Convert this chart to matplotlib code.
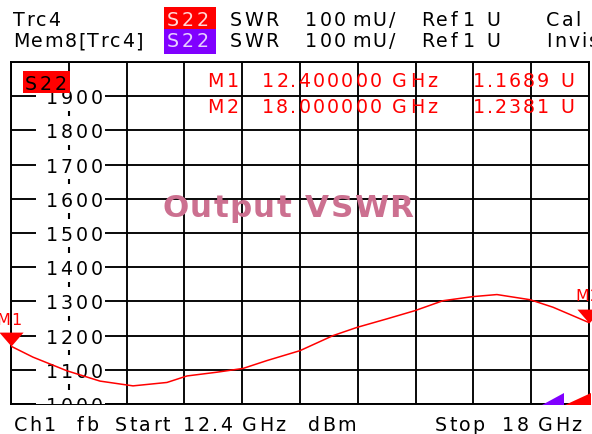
import numpy as np
import matplotlib
matplotlib.use("Agg")
import matplotlib.pyplot as plt
import matplotlib.transforms as mtransforms
from matplotlib.patches import Rectangle, Polygon
from matplotlib.font_manager import FontProperties, findfont, get_font

# ---------------- data ----------------
freq_ghz = [12.4, 12.613, 12.943, 13.262, 13.582, 13.911, 14.105, 14.396, 14.648,
            14.880, 15.200, 15.520, 15.752, 16.043, 16.314, 16.585, 16.876, 17.108,
            17.428, 17.651, 17.845, 18.0]
swr_mu = [1169, 1137, 1097, 1067, 1053, 1063, 1082, 1093, 1104,
          1127, 1156, 1200, 1224, 1249, 1273, 1302, 1314, 1320,
          1305, 1283, 1258, 1238]

start_ghz = 12.4
stop_ghz = 18.0
y_min, y_max = 1000, 2000
y_tick_values = [1000, 1100, 1200, 1300, 1400, 1500, 1600, 1700, 1800, 1900]
y_tick_labels = ["1000", "1100", "1200", "1300", "1400", "1500", "1600", "1700", "1800", "1900"]

marker_names = ["M1", "M2"]
marker_freq = [12.4, 18.0]
marker_value = [1168.9, 1238.1]
marker_freq_text = ["12.400000", "18.000000"]
marker_value_text = ["1.1689", "1.2381"]

title_text = "Output VSWR"

# ---------------- layout ----------------
W, H, DPI = 592, 435, 100
FONT = "DejaVu Sans"
L, R, T, B = 11, 589, 63, 405

fig = plt.figure(figsize=(W / DPI, H / DPI), dpi=DPI)
fig.patch.set_facecolor("white")
ax = fig.add_axes([L / W, (H - B) / H, (R - L) / W, (B - T) / H])
ov = fig.add_axes([0, 0, 1, 1], zorder=5)
ov.set_xlim(0, W)
ov.set_ylim(H, 0)
ov.axis("off")
ov.patch.set_alpha(0)

_adv_cache = {}


def char_adv(ch, size_px, weight):
    key = (ch, size_px, weight)
    if key in _adv_cache:
        return _adv_cache[key]
    try:
        fp = FontProperties(family=FONT, weight=weight)
        font = get_font(findfont(fp))
        font.set_size(size_px * 72 / DPI, DPI)
        g = font.load_char(ord(ch))
        a = g.linearHoriAdvance / 65536.0
    except Exception:
        a = 0.6 * size_px
    _adv_cache[key] = a
    return a


def text_width(s, size_px, spacing, weight="normal"):
    return sum(char_adv(c, size_px, weight) + spacing for c in s) - spacing


def spaced(target, x, y, s, size_px=19, spacing=2.2, color="black", weight="normal",
           transform=None, zorder=6, clip=False):
    cx = x
    for ch in s:
        if ch != " ":
            kw = {}
            if transform is not None:
                kw["transform"] = transform
            target.text(cx, y, ch, fontsize=size_px * 72 / DPI, family=FONT,
                        weight=weight, color=color, va="baseline", ha="left",
                        zorder=zorder, clip_on=clip, **kw)
        cx += char_adv(ch, size_px, weight) + spacing
    return cx


# ---------------- main axes ----------------
ax.set_xlim(start_ghz, stop_ghz)
ax.set_ylim(y_min, y_max)
x_grid = np.linspace(start_ghz, stop_ghz, 11)
ax.set_xticks(x_grid)
ax.set_yticks(list(y_tick_values) + [y_max])
ax.tick_params(length=0, labelbottom=False, labelleft=False)
ax.grid(True, color="black", lw=1.35)
ax.set_axisbelow(True)
for sp in ax.spines.values():
    sp.set_color("black")
    sp.set_linewidth(1.4)

# white mask column for y labels
blend = mtransforms.blended_transform_factory(ov.transData, ax.transData)
ax.add_patch(Rectangle((36, y_min), 69, 912, transform=blend, facecolor="white",
                       edgecolor="none", zorder=3))
mids = np.array(y_tick_values) + 50
ax.vlines([x_grid[1]] * (len(mids) - 1), mids[:-1] - 8, mids[:-1] + 8, colors="black",
          lw=1.5, zorder=3.5)

lab_trans = mtransforms.offset_copy(blend, fig=fig, x=0, y=-7, units="dots")
for v, lab in zip(y_tick_values, y_tick_labels):
    w = text_width(lab, 19, 2.8)
    spaced(ax, 74 - w / 2, v, lab, size_px=19, spacing=2.8, transform=lab_trans,
           zorder=3.6, clip=True)

# trace
ax.plot(freq_ghz, swr_mu, color="#ff0000", lw=1.1, zorder=4)

# markers (triangle with tip at the point)
tri = [(-1.0, 1.15), (1.0, 1.15), (0.0, 0.0), (-1.0, 1.15)]
ax.plot(marker_freq, marker_value, linestyle="none", marker=tri, ms=20,
        color="#ff0000", markeredgewidth=0, clip_on=False, zorder=5)

fig.canvas.draw()
label_offsets = [(-15, -22), (-14, -23)]
for name, f, v, (dx, dy) in zip(marker_names, marker_freq, marker_value, label_offsets):
    px, py = ax.transData.transform((f, v))
    spaced(ov, px + dx, (H - py) + dy, name, size_px=16, spacing=1.5, color="#ff0000")

# ---------------- in-plot annotations ----------------
ov.add_patch(Rectangle((23, 72), 47, 22, facecolor="#ff0000", edgecolor="none", zorder=5))
spaced(ov, 25, 90, "S22", size_px=19, spacing=2.5, color="black")

row_base = [87, 113]
for i in range(2):
    yb = row_base[i]
    spaced(ov, 207, yb, marker_names[i], color="#ff0000", spacing=3.0)
    spaced(ov, 262, yb, marker_freq_text[i], color="#ff0000", spacing=2.1)
    spaced(ov, 392, yb, "GHz", color="#ff0000", spacing=3.0)
    spaced(ov, 473, yb, marker_value_text[i], color="#ff0000", spacing=1.8)
    spaced(ov, 560, yb, "U", color="#ff0000", spacing=2.0)

spaced(ov, 162, 217, title_text, size_px=31, spacing=1.4, color="#cc7090", weight="bold")

# out-of-range indicators
ov.add_patch(Polygon([(542, 406), (564, 406), (564, 394)], closed=True,
                     facecolor="#8000ff", edgecolor="none", zorder=6))
ov.add_patch(Polygon([(565, 406), (591, 406), (591, 394)], closed=True,
                     facecolor="#ff0000", edgecolor="none", zorder=6))

# ---------------- header ----------------
ov.add_patch(Rectangle((164, 8), 52, 22, facecolor="#ff0000", edgecolor="none", zorder=5))
ov.add_patch(Rectangle((164, 30), 52, 25, facecolor="#8000ff", edgecolor="none", zorder=5))
header_rows = [("Trc4", 26, "#ffd8d8", "Cal"), ("Mem8[Trc4]", 47, "#e8d0ff", "Invis")]
for name, yb, box_txt, tail in header_rows:
    spaced(ov, 13, yb, name, spacing=1.6)
    spaced(ov, 167, yb, "S22", color=box_txt, spacing=2.5)
    spaced(ov, 230, yb, "SWR")
    spaced(ov, 305, yb, "100")
    spaced(ov, 352, yb, "mU/")
    spaced(ov, 421, yb, "Ref")
    spaced(ov, 463, yb, "1")
    spaced(ov, 486, yb, "U")
    spaced(ov, 546, yb, tail)

# ---------------- footer ----------------
footer = [("Ch1", 14), ("fb", 77), ("Start", 115), (f"{start_ghz:g}", 183), ("GHz", 242),
          ("dBm", 308), ("Stop", 435), (f"{stop_ghz:g}", 502), ("GHz", 538)]
for s, x in footer:
    spaced(ov, x, 431, s)

fig.savefig("out.png", dpi=DPI, facecolor="white")
